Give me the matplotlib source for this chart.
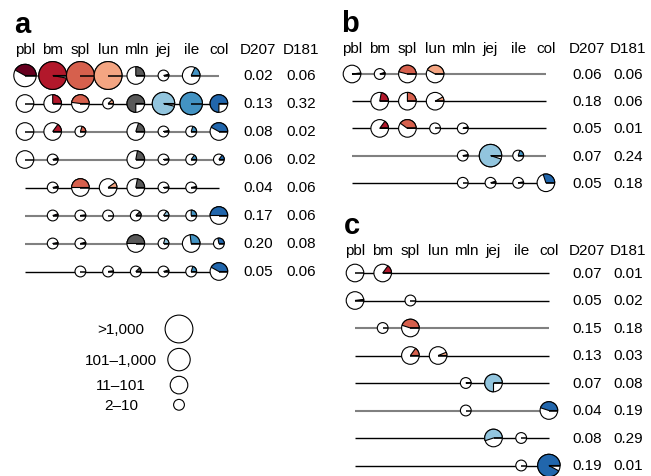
import matplotlib
matplotlib.use('Agg')
import matplotlib.pyplot as plt
from matplotlib.patches import Circle, Wedge

plt.rcParams['font.family'] = ['Liberation Sans', 'DejaVu Sans']

tissues = ['pbl', 'bm', 'spl', 'lun', 'mln', 'jej', 'ile', 'col']
tissue_colors = ['#67001F', '#B2182B', '#D6604D', '#F4A582',
                 '#595959', '#92C5DE', '#4393C3', '#2166AC']

# size class per tissue (0: 2-10, 1: 11-101, 2: 101-1,000, 3: >1,000), None = absent
a_sizes = [
    [2, 3, 3, 3, 1, 0, 1, None],
    [1, 1, 1, 0, 1, 2, 2, 1],
    [1, 1, 0, None, 1, 0, 0, 1],
    [1, 0, None, None, 1, 0, 0, 0],
    [None, 0, 1, 1, 1, 0, 0, None],
    [None, 0, 0, 0, 0, 0, 0, 1],
    [None, 0, 0, None, 1, 0, 1, 0],
    [None, None, 0, 0, 0, 0, 0, 1],
]
a_fracs = [
    [0.42, 0.97, 1.0, 1.0, 0.25, 0.04, 0.18, None],
    [0.0, 0.25, 0.48, 0.12, 0.75, 0.96, 1.0, 0.75],
    [0.0, 0.15, 0.2, None, 0.2, 0.03, 0.2, 0.42],
    [0.0, 0.05, None, None, 0.22, 0.02, 0.15, 0.15],
    [None, 0.04, 0.5, 0.1, 0.22, 0.02, 0.03, None],
    [None, 0.05, 0.02, 0.0, 0.12, 0.15, 0.25, 0.5],
    [None, 0.03, 0.04, None, 0.5, 0.2, 0.27, 0.28],
    [None, None, 0.0, 0.02, 0.12, 0.05, 0.2, 0.42],
]
a_dark = [False, True, False, False, True, False, False, True]
a_d207 = ['0.02', '0.13', '0.08', '0.06', '0.04', '0.17', '0.20', '0.05']
a_d181 = ['0.06', '0.32', '0.02', '0.02', '0.06', '0.06', '0.08', '0.06']

b_sizes = [
    [1, 0, 1, 1, None, None, None, None],
    [None, 1, 1, 1, None, None, None, None],
    [None, 1, 1, 0, 0, None, None, None],
    [None, None, None, None, 0, 2, 0, None],
    [None, None, None, None, 0, 0, 0, 1],
]
b_fracs = [
    [0.02, 0.05, 0.46, 0.42, None, None, None, None],
    [None, 0.22, 0.25, 0.08, None, None, None, None],
    [None, 0.15, 0.4, 0.0, 0.05, None, None, None],
    [None, None, None, None, 0.03, 0.95, 0.2, None],
    [None, None, None, None, 0.0, 0.05, 0.03, 0.3],
]
b_dark = [False, True, True, False, True]
b_d207 = ['0.06', '0.18', '0.05', '0.07', '0.05']
b_d181 = ['0.06', '0.06', '0.01', '0.24', '0.18']

c_sizes = [
    [1, 1, None, None, None, None, None, None],
    [1, None, 0, None, None, None, None, None],
    [None, 0, 1, None, None, None, None, None],
    [None, None, 1, 1, None, None, None, None],
    [None, None, None, None, 0, 1, None, None],
    [None, None, None, None, 0, None, None, 1],
    [None, None, None, None, None, 1, 0, None],
    [None, None, None, None, None, None, 0, 2],
]
c_fracs = [
    [0.0, 0.15, None, None, None, None, None, None],
    [0.02, None, 0.0, None, None, None, None, None],
    [None, 0.0, 0.45, None, None, None, None, None],
    [None, None, 0.15, 0.06, None, None, None, None],
    [None, None, None, None, 0.02, 0.75, None, None],
    [None, None, None, None, 0.0, None, None, 0.45],
    [None, None, None, None, None, 0.55, 0.0, None],
    [None, None, None, None, None, None, 0.0, 0.92],
]
c_dark = [True, True, False, True, True, False, True, True]
c_d207 = ['0.07', '0.05', '0.15', '0.13', '0.07', '0.04', '0.08', '0.19']
c_d181 = ['0.01', '0.02', '0.18', '0.03', '0.08', '0.19', '0.29', '0.01']

legend_labels = ['>1,000', '101\u20131,000', '11\u2013101', '2\u201310']
legend_classes = [3, 2, 1, 0]

# layout (pixels)
W, H = 651, 477
radii = [5.4, 8.8, 11.2, 13.9]
col_dx = 27.7
fs = 11

fig = plt.figure(figsize=(W / 100, H / 100), dpi=100)
ax = fig.add_axes([0, 0, 1, 1])
ax.set_xlim(0, W)
ax.set_ylim(H, 0)
ax.axis('off')


def pie(x, y, r, frac, color):
    ax.add_patch(Circle((x, y), r, facecolor='white', edgecolor='black', lw=0.8, zorder=3))
    if frac > 0:
        # y axis is flipped, so negative angles run counter-clockwise on screen
        ax.add_patch(Wedge((x, y), r, -360 * frac, 0, facecolor=color,
                           edgecolor='black', lw=0.8, zorder=4))
    ax.plot([x, x + r], [y, y], color='black', lw=1.1, zorder=5, solid_capstyle='butt')


def panel(label, x0, head_y, row_y0, row_dy, sizes, fracs, dark, d207, d181, xd207, xd181):
    ax.text(x0 - 11, head_y - 17, label, fontsize=21, fontweight='bold',
            ha='left', va='baseline')
    for i, t in enumerate(tissues):
        ax.text(x0 + i * col_dx, head_y, t, fontsize=fs, ha='center', va='center')
    ax.text(xd207, head_y, 'D207', fontsize=fs, ha='center', va='center')
    ax.text(xd181, head_y, 'D181', fontsize=fs, ha='center', va='center')
    for j in range(len(sizes)):
        y = row_y0 + j * row_dy
        ax.plot([x0, x0 + 7 * col_dx], [y, y],
                color='black' if dark[j] else '#808080',
                lw=1.0 if dark[j] else 1.5, zorder=1, solid_capstyle='butt')
        for i in range(len(tissues)):
            if sizes[j][i] is None:
                continue
            pie(x0 + i * col_dx, y, radii[sizes[j][i]], fracs[j][i], tissue_colors[i])
        ax.text(xd207, y, d207[j], fontsize=fs, ha='center', va='center')
        ax.text(xd181, y, d181[j], fontsize=fs, ha='center', va='center')


panel('a', 25, 50, 76.5, 28.0, a_sizes, a_fracs, a_dark, a_d207, a_d181, 258, 301)
panel('b', 352, 49, 75, 27.2, b_sizes, b_fracs, b_dark, b_d207, b_d181, 587, 628)
panel('c', 355, 251, 274, 27.5, c_sizes, c_fracs, c_dark, c_d207, c_d181, 587, 628)

# size legend
ly = 330
for k, (lab, cls) in enumerate(zip(legend_labels, legend_classes)):
    if k > 0:
        ly += radii[legend_classes[k - 1]] + radii[cls] + 5.5
    ax.add_patch(Circle((179, ly), radii[cls], facecolor='white', edgecolor='black', lw=0.8))
    ax.text(121, ly, lab, fontsize=fs, ha='center', va='center')

fig.savefig('out.png', dpi=100)
